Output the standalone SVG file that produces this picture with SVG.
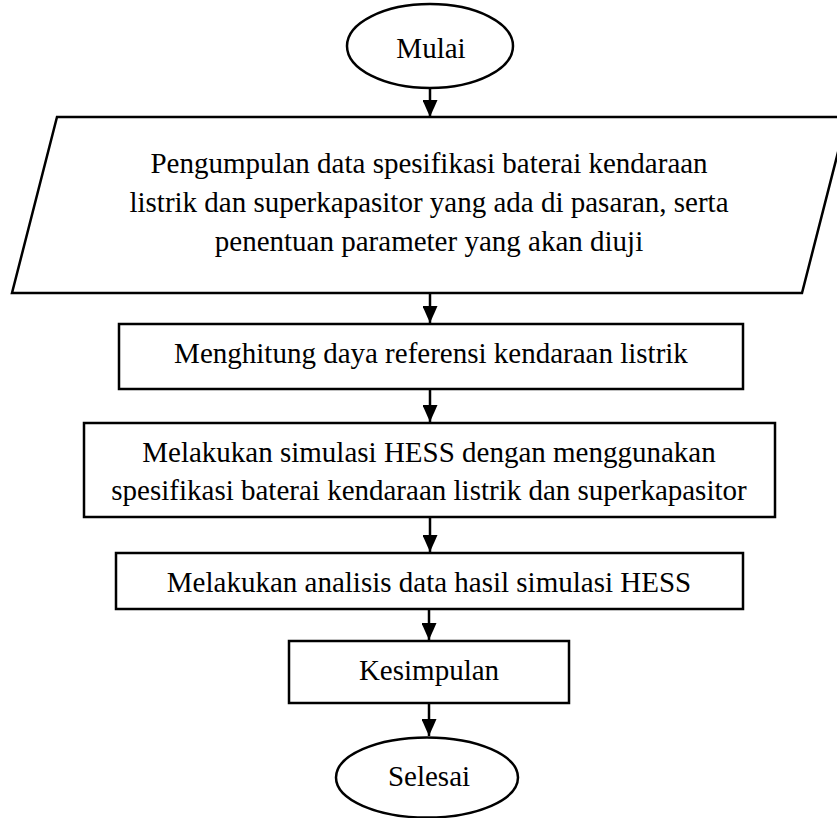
<svg xmlns="http://www.w3.org/2000/svg" width="837" height="818" viewBox="0 0 837 818">
<style>
.s{fill:#fff;stroke:#000;stroke-width:2.5}
.t{font-family:"Liberation Serif","Times New Roman",serif;font-size:29px;fill:#000;text-anchor:middle}
.c{stroke:#000;stroke-width:2.5;fill:none;marker-end:url(#ah)}
</style>
<defs>
<marker id="ah" markerUnits="userSpaceOnUse" markerWidth="17" markerHeight="15" refX="17" refY="7.5" orient="auto" viewBox="0 0 17 15">
<path d="M0,0 L17,7.5 L0,15 Z" fill="#000"/>
</marker>
</defs>
<rect width="837" height="818" fill="#fff"/>
<g id="connectors">
<line class="c" x1="430" y1="88" x2="430" y2="117"/>
<line class="c" x1="430" y1="293" x2="430" y2="323"/>
<line class="c" x1="430" y1="389" x2="430" y2="422"/>
<line class="c" x1="430" y1="517" x2="430" y2="552"/>
<line class="c" x1="429" y1="609" x2="429" y2="640"/>
<line class="c" x1="429" y1="703" x2="429" y2="736"/>
</g>
<g id="mulai">
<ellipse class="s" cx="430" cy="46" rx="83" ry="42"/>
<text class="t" x="431" y="58">Mulai</text>
</g>
<g id="pengumpulan">
<polygon class="s" points="57,117 847,117 802,293 12,293"/>
<text class="t" x="429" y="173">Pengumpulan data spesifikasi baterai kendaraan</text>
<text class="t" x="429" y="212">listrik dan superkapasitor yang ada di pasaran, serta</text>
<text class="t" x="429" y="251">penentuan parameter yang akan diuji</text>
</g>
<g id="menghitung">
<rect class="s" x="119" y="324" width="624" height="65"/>
<text class="t" x="431" y="363">Menghitung daya referensi kendaraan listrik</text>
</g>
<g id="simulasi">
<rect class="s" x="84" y="423" width="691" height="94"/>
<text class="t" x="429" y="462">Melakukan simulasi HESS dengan menggunakan</text>
<text class="t" x="429" y="500">spesifikasi baterai kendaraan listrik dan superkapasitor</text>
</g>
<g id="analisis">
<rect class="s" x="116" y="553" width="627" height="56"/>
<text class="t" x="429" y="592">Melakukan analisis data hasil simulasi HESS</text>
</g>
<g id="kesimpulan">
<rect class="s" x="289" y="641" width="280" height="62"/>
<text class="t" x="429" y="680">Kesimpulan</text>
</g>
<g id="selesai">
<ellipse class="s" cx="427" cy="777.5" rx="91" ry="40"/>
<text class="t" x="429" y="786">Selesai</text>
</g>
</svg>
